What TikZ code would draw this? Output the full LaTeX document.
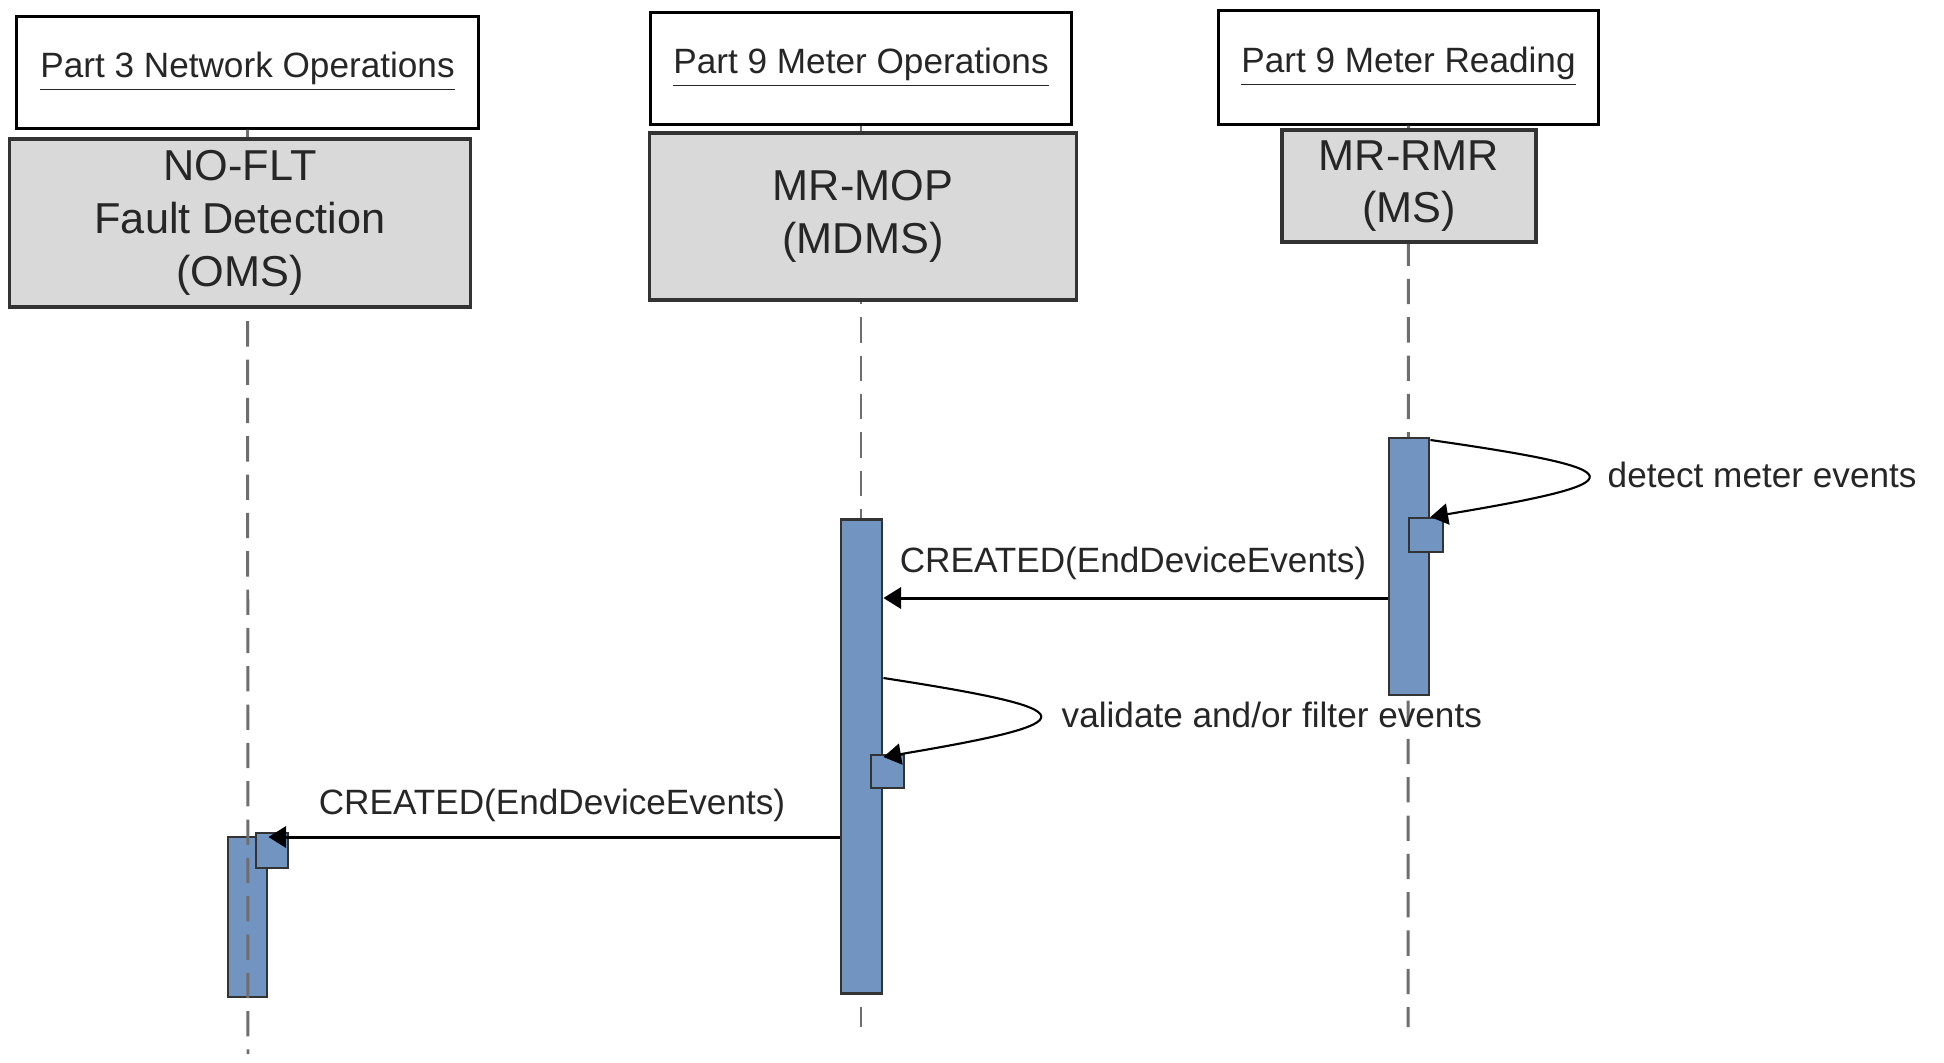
\documentclass[tikz,border=0pt]{standalone}
\usepackage{fontspec}
\setmainfont{Liberation Sans}
\usetikzlibrary{arrows.meta}

\definecolor{barblue}{RGB}{114,148,192}
\definecolor{boxgrey}{RGB}{217,217,217}
\definecolor{lifegrey}{RGB}{110,110,110}

% underline with a heavier rule, as in the package headers
\newcommand{\pkgline}[1]{\underline{\smash{#1}\vphantom{Pp}}}

\tikzset{
  header/.style={draw=black, line width=0.85pt, fill=white, inner sep=0pt,
    text=black!85, font=\fontsize{10}{12}\selectfont},
  roleblock/.style={draw=black!80, line width=0.9pt, fill=boxgrey, inner sep=0pt,
    align=center, text=black!85, font=\fontsize{12.3}{15}\selectfont},
  lifeline/.style={draw=lifegrey, line width=0.85pt, dash pattern=on 7.2pt off 3.7pt},
  actbar/.style={draw=black!80, line width=0.8pt, fill=barblue, inner sep=0pt},
  msg/.style={draw=black, line width=0.85pt, -{Triangle[length=5pt,width=6pt]}},
  selfmsg/.style={draw=black, line width=0.6pt, -{Triangle[length=5pt,width=6pt]}},
  msglabel/.style={font=\fontsize{10}{12}\selectfont, inner sep=0pt, text=black!85}
}

\begin{document}
\begin{tikzpicture}[x=0.01cm, y=-0.01cm]
  \useasboundingbox (0,0) rectangle (1944,1063);

  % lifeline ends
  \coordinate (endA) at (248,1054);
  \coordinate (endB) at (861,1027);
  \coordinate (endC) at (1408,1027);

  % package headers
  \node[header, minimum width=4.61cm, minimum height=1.11cm] (hA) at (247.5,72.5)
    {\pkgline{Part 3 Network Operations}};
  \node[header, minimum width=4.20cm, minimum height=1.11cm] (hB) at (861,68.5)
    {\pkgline{Part 9 Meter Operations}};
  \node[header, minimum width=3.79cm, minimum height=1.13cm] (hC) at (1408.5,67.5)
    {\pkgline{Part 9 Meter Reading}};

  % lifelines of the meter side
  \draw[lifeline] (hB.south) -- (endB);
  \draw[lifeline] (hC.south) -- (endC);

  % activation of the fault detection side, with its lifeline on top
  \node[actbar, minimum width=0.39cm, minimum height=1.60cm] (barA) at (247.5,917) {};
  \draw[lifeline] (hA.south) -- (endA);

  % role blocks
  \node[roleblock, minimum width=4.60cm, minimum height=1.68cm] (gA) at (240,223)
    {NO-FLT\\Fault Detection\\(OMS)};
  \node[roleblock, minimum width=4.26cm, minimum height=1.67cm] (gB) at (863,216.5)
    {MR-MOP\\(MDMS)};
  \node[roleblock, minimum width=2.54cm, minimum height=1.12cm] (gC) at (1409,186)
    {MR-RMR\\(MS)};

  % activation bars
  \node[actbar, minimum width=0.41cm, minimum height=4.73cm] (barB) at (861.5,756.5) {};
  \node[actbar, minimum width=0.40cm, minimum height=2.57cm] (barC) at (1409,566.5) {};

  % nested activations
  \node[actbar, minimum width=0.34cm, minimum height=0.34cm] (sqC) at (1426,535) {};
  \node[actbar, minimum width=0.33cm, minimum height=0.33cm] (sqB) at (887.5,771.5) {};
  \node[actbar, minimum width=0.32cm, minimum height=0.35cm] (sqA) at (272,850.5) {};

  % message heights
  \coordinate (yC1) at (0,440);
  \coordinate (yC2) at (0,517);
  \coordinate (yM1) at (0,598);
  \coordinate (yB1) at (0,678);
  \coordinate (yB2) at (0,757);
  \coordinate (yM2) at (0,837);

  % detect meter events
  \draw[selfmsg] (barC.east |- yC1) .. controls (1640,470) and (1640,482) .. (barC.east |- yC2);
  \node[msglabel, anchor=west] (lC) at (1607,475) {detect meter events};

  % events from metering system to MDMS
  \draw[msg] (barC.west |- yM1) -- (barB.east |- yM1);
  \node[msglabel] (l1) at (1133,563) {CREATED(EndDeviceEvents)};

  % validate and/or filter events
  \draw[selfmsg] (barB.east |- yB1) .. controls (1091,710) and (1091,722) .. (barB.east |- yB2);
  \node[msglabel, anchor=west] (lB) at (1061,715) {validate and/or filter events};

  % events from MDMS to OMS
  \draw[msg] (barB.west |- yM2) -- (barA.east |- yM2);
  \node[msglabel] (l2) at (552,805) {CREATED(EndDeviceEvents)};
\end{tikzpicture}
\end{document}
